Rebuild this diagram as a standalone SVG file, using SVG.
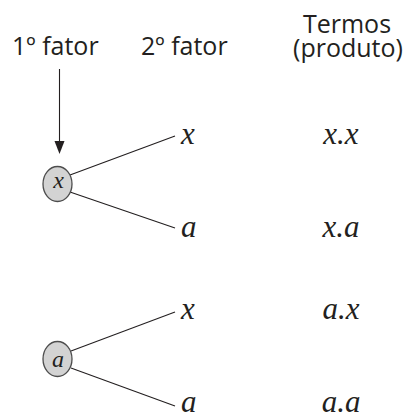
<svg xmlns="http://www.w3.org/2000/svg" width="406" height="413" viewBox="0 0 406 413">
<style>
.hd{font-family:"Open Sans","Noto Sans",sans-serif;font-size:25px;fill:#231f20}
.m{font-family:"Liberation Serif",serif;font-style:italic;font-size:31px;fill:#231f20}
.mc{font-family:"Liberation Serif",serif;font-style:italic;font-size:24px;fill:#231f20;text-anchor:middle}
.c{fill:#d3d3d3;stroke:#4d4d4d;stroke-width:1.3}
.e{stroke:#231f20;stroke-width:1.1;fill:none}
</style>
<defs>
<marker id="ah" markerWidth="10" markerHeight="13" refX="5" refY="13" orient="auto-start-reverse" markerUnits="userSpaceOnUse" viewBox="0 0 10 13">
<path d="M0,0 L10,0 L5,13 Z" fill="#231f20"/>
</marker>
</defs>
<rect width="406" height="413" fill="#ffffff"/>
<g id="headers">
<text class="hd" x="12" y="55">1º fator</text>
<text class="hd" x="141" y="55">2º fator</text>
<text class="hd" x="347" y="33" text-anchor="middle">Termos</text>
<text class="hd" x="348" y="57" text-anchor="middle">(produto)</text>
</g>
<g id="connectors">
<line x1="59.5" y1="69" x2="59.5" y2="141" class="e"/>
<path d="M54.5,141 L64.5,141 L59.5,154 Z" fill="#231f20"/>
<line x1="70" y1="175" x2="175" y2="136" class="e"/>
<line x1="70" y1="192" x2="175" y2="228" class="e"/>
<line x1="71" y1="351" x2="175" y2="312" class="e"/>
<line x1="71" y1="368" x2="175" y2="406" class="e"/>
</g>
<g id="node-x">
<ellipse class="c" cx="57.5" cy="184" rx="14.5" ry="17.5"/>
<text class="mc" x="58.5" y="188">x</text>
</g>
<g id="node-a">
<ellipse class="c" cx="57.5" cy="359" rx="14.5" ry="17.5"/>
<text class="mc" x="58" y="367">a</text>
</g>
<g id="col2">
<text class="m" x="181" y="144">x</text>
<text class="m" x="181" y="237">a</text>
<text class="m" x="181" y="319">x</text>
<text class="m" x="181" y="412">a</text>
</g>
<g id="col3">
<text class="m" x="341" y="144" text-anchor="middle">x.x</text>
<text class="m" x="341" y="237" text-anchor="middle">x.a</text>
<text class="m" x="341" y="319" text-anchor="middle">a.x</text>
<text class="m" x="341" y="412" text-anchor="middle">a.a</text>
</g>
</svg>
